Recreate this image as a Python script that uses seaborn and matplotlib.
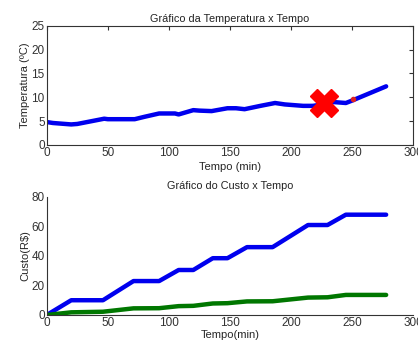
import numpy as np
import pandas as pd
import matplotlib
matplotlib.use("Agg")
import matplotlib.pyplot as plt
import seaborn as sns

# temperatura
tempo_t = [0, 5, 10, 20, 25, 35, 47, 50, 60, 72, 80, 92, 105, 108, 120, 125, 135,
           148, 155, 162, 175, 187, 195, 210, 218, 228, 235, 245, 250, 278]
temperatura = [4.8, 4.6, 4.5, 4.3, 4.4, 4.9, 5.5, 5.4, 5.4, 5.4, 5.9, 6.6, 6.6, 6.4,
               7.3, 7.2, 7.1, 7.7, 7.7, 7.5, 8.2, 8.8, 8.5, 8.2, 8.2, 8.6, 9.0, 8.8,
               9.3, 12.3]
marca_x = [227]
marca_y = [8.7]
ponto_x = [251]
ponto_y = [9.6]

# custo
tempo_c = [0, 20, 46, 71, 92, 108, 120, 136, 148, 164, 185, 214, 230, 245, 278]
custo_azul = [0, 10, 10, 23, 23, 30.5, 30.5, 38.5, 38.5, 46, 46, 61, 61, 68, 68]
custo_verde = [0, 1.8, 2.2, 4.5, 4.6, 6.0, 6.2, 7.8, 8.0, 9.2, 9.3, 11.8, 12.0, 13.6, 13.6]

sns.set_style("white")
plt.rcParams['font.family'] = ['Liberation Sans', 'DejaVu Sans']

fig = plt.figure(figsize=(4.18, 3.45), dpi=100)
ax1 = fig.add_axes([0.112, 0.580, 0.876, 0.345])
ax2 = fig.add_axes([0.112, 0.087, 0.876, 0.342])

sns.lineplot(x=tempo_t, y=temperatura, ax=ax1, color='#0000ee', linewidth=3.2)
ax1.plot(marca_x, marca_y, marker='X', color='#ff0000', markersize=20, linestyle='none')
ax1.plot(ponto_x, ponto_y, marker='o', color='#dd2222', markersize=3, linestyle='none')
ax1.set_xlim(0, 300)
ax1.set_ylim(0, 25)
ax1.set_xticks([0, 50, 100, 150, 200, 250, 300])
ax1.set_yticks([0, 5, 10, 15, 20, 25])
ax1.set_title('Gráfico da Temperatura x Tempo', fontsize=7.8, color='#222222', pad=3)
ax1.set_xlabel('Tempo (min)', fontsize=8, labelpad=2)
ax1.set_ylabel('Temperatura (ºC)', fontsize=8, labelpad=1)
ax1.tick_params(direction='in', length=3, labelsize=8.5, top=True, right=True, pad=1.5,
                colors='#333333')

sns.lineplot(x=tempo_c, y=custo_azul, ax=ax2, color='#0000ee', linewidth=3.2)
sns.lineplot(x=tempo_c, y=custo_verde, ax=ax2, color='#007700', linewidth=3.2)
ax2.set_xlim(0, 300)
ax2.set_ylim(0, 80)
ax2.set_xticks([0, 50, 100, 150, 200, 250, 300])
ax2.set_yticks([0, 20, 40, 60, 80])
ax2.set_title('Gráfico do Custo x Tempo', fontsize=7.8, color='#222222', pad=6)
ax2.set_xlabel('Tempo(min)', fontsize=8, labelpad=1)
ax2.set_ylabel('Custo(R$)', fontsize=8, labelpad=1)
ax2.tick_params(direction='in', length=3, labelsize=8.5, pad=1.5, colors='#333333')
ax2.spines['top'].set_visible(False)
ax2.spines['right'].set_visible(False)

for ax in (ax1, ax2):
    for s in ax.spines.values():
        s.set_color('#333333')
        s.set_linewidth(0.8)

fig.savefig('out.png', dpi=100)
